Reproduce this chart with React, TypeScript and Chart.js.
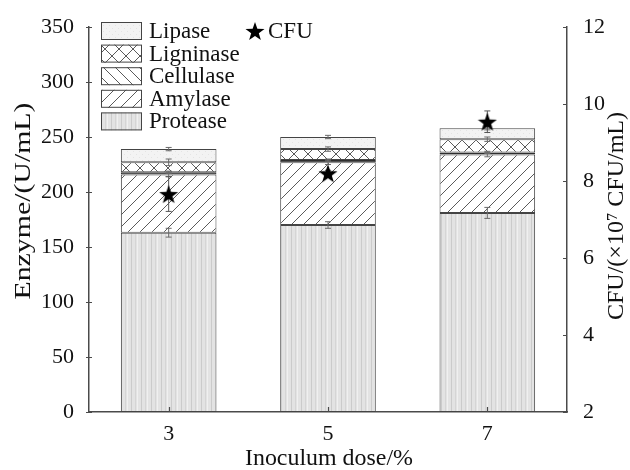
import React, { useEffect, useRef } from "react";
import { Chart, registerables } from "chart.js";

Chart.register(...registerables);

// Inoculum doses (x categories)
const doses = ["3", "5", "7"];

// Enzyme activities, U/mL (stacked segments, bottom to top)
const protease = [163, 170, 181];
const amylase = [53, 57, 53];
const cellulase = [2, 2, 2];
const ligninase = [9, 10, 12];
const lipase = [12, 11, 10];

// Standard deviations of the enzyme segments
const proteaseErr = [4, 3, 5];
const amylaseErr = [2, 2, 2];
const cellulaseErr = [1, 1, 1];
const ligninaseErr = [3, 2, 2];
const lipaseErr = [1.5, 1.5, 1.5];

// Viable counts, ×10^7 CFU/mL
const cfu = [7.66, 8.2, 9.54];
const cfuErr = [0.45, 0.08, 0.28];

// Axis ticks
const enzymeTicks = [0, 50, 100, 150, 200, 250, 300, 350];
const cfuTicks = [2, 4, 6, 8, 10, 12];

const FONT = "'Liberation Serif', 'Times New Roman', serif";
const AXIS = "#4a4a4a";
const EDGE = "#444444";
const TEXT = "#111111";

function makePattern(kind: string): CanvasPattern | string {
  const c = document.createElement("canvas");
  const ctx = c.getContext("2d");
  if (!ctx) return "#ddd";
  if (kind === "protease") {
    c.width = 10;
    c.height = 4;
    ctx.fillStyle = "#e3e3e3";
    ctx.fillRect(0, 0, 10, 4);
    ctx.fillStyle = "#cbcbcb";
    ctx.fillRect(1, 0, 1, 4);
    ctx.fillStyle = "#d5d5d5";
    ctx.fillRect(5, 0, 1, 4);
    ctx.fillStyle = "#f0f0f0";
    ctx.fillRect(7, 0, 1, 4);
  } else if (kind === "amylase" || kind === "cellulase") {
    const s = 12;
    c.width = s;
    c.height = s;
    ctx.fillStyle = "#ffffff";
    ctx.fillRect(0, 0, s, s);
    ctx.strokeStyle = "#5a5a5a";
    ctx.lineWidth = 1;
    ctx.beginPath();
    if (kind === "amylase") {
      ctx.moveTo(-1, s + 1); ctx.lineTo(s + 1, -1);
      ctx.moveTo(-1, 1); ctx.lineTo(1, -1);
      ctx.moveTo(s - 1, s + 1); ctx.lineTo(s + 1, s - 1);
    } else {
      ctx.moveTo(-1, -1); ctx.lineTo(s + 1, s + 1);
      ctx.moveTo(s - 1, -1); ctx.lineTo(s + 1, 1);
      ctx.moveTo(-1, s - 1); ctx.lineTo(1, s + 1);
    }
    ctx.stroke();
  } else if (kind === "ligninase") {
    const s = 14;
    c.width = s;
    c.height = s;
    ctx.fillStyle = "#ffffff";
    ctx.fillRect(0, 0, s, s);
    ctx.strokeStyle = "#5a5a5a";
    ctx.lineWidth = 1;
    ctx.beginPath();
    ctx.moveTo(-1, -1); ctx.lineTo(s + 1, s + 1);
    ctx.moveTo(-1, s + 1); ctx.lineTo(s + 1, -1);
    ctx.stroke();
  } else {
    c.width = 6;
    c.height = 6;
    ctx.fillStyle = "#f3f3f3";
    ctx.fillRect(0, 0, 6, 6);
    ctx.fillStyle = "#e4e4e4";
    ctx.fillRect(1, 1, 1, 1);
    ctx.fillRect(4, 4, 1, 1);
  }
  return ctx.createPattern(c, "repeat") || "#ddd";
}

function makeStar(size: number): HTMLCanvasElement {
  const c = document.createElement("canvas");
  c.width = size;
  c.height = size;
  const ctx = c.getContext("2d");
  if (ctx) {
    const cx = size / 2;
    const cy = size / 2 + size * 0.05;
    const R = size / 2;
    const r = R * 0.4;
    ctx.beginPath();
    for (let i = 0; i < 10; i++) {
      const rad = i % 2 === 0 ? R : r;
      const a = -Math.PI / 2 + (i * Math.PI) / 5;
      const px = cx + rad * Math.cos(a);
      const py = cy + rad * Math.sin(a);
      if (i === 0) ctx.moveTo(px, py);
      else ctx.lineTo(px, py);
    }
    ctx.closePath();
    ctx.fillStyle = "#000";
    ctx.fill();
  }
  return c;
}

// Draws text centred on (cx, cy), rotated by `angle`, fitted to `length` along its run
// and squeezed by `thick` across it
function drawFittedText(
  ctx: CanvasRenderingContext2D,
  text: string,
  cx: number,
  cy: number,
  angle: number,
  length: number,
  size: number,
  thick: number
) {
  ctx.save();
  ctx.font = `${size}px ${FONT}`;
  ctx.fillStyle = TEXT;
  ctx.textAlign = "center";
  ctx.textBaseline = "middle";
  const w = ctx.measureText(text).width;
  ctx.translate(cx, cy);
  ctx.rotate(angle);
  ctx.scale(length / w, thick);
  ctx.fillText(text, 0, 0);
  ctx.restore();
}

export default function App() {
  const ref = useRef<HTMLCanvasElement | null>(null);

  useEffect(() => {
    document.body.style.margin = "0";
    const canvas = ref.current;
    if (!canvas) return;

    const fills = {
      protease: makePattern("protease"),
      amylase: makePattern("amylase"),
      cellulase: makePattern("cellulase"),
      ligninase: makePattern("ligninase"),
      lipase: makePattern("lipase"),
    };
    const star = makeStar(20);

    const segments = [
      { label: "Protease", data: protease, err: proteaseErr, fill: fills.protease, bar: fills.protease, edge: EDGE },
      { label: "Amylase", data: amylase, err: amylaseErr, fill: fills.amylase, bar: fills.amylase, edge: EDGE },
      { label: "Cellulase", data: cellulase, err: cellulaseErr, fill: fills.cellulase, bar: "#2e2e2e", edge: "#2e2e2e" },
      { label: "Ligninase", data: ligninase, err: ligninaseErr, fill: fills.ligninase, bar: fills.ligninase, edge: EDGE },
      { label: "Lipase", data: lipase, err: lipaseErr, fill: fills.lipase, bar: fills.lipase, edge: EDGE },
    ];

    const drawCap = (ctx: CanvasRenderingContext2D, x: number, y1: number, y2: number, w: number) => {
      ctx.beginPath();
      ctx.moveTo(x, y1); ctx.lineTo(x, y2);
      ctx.moveTo(x - w, y1); ctx.lineTo(x + w, y1);
      ctx.moveTo(x - w, y2); ctx.lineTo(x + w, y2);
      ctx.stroke();
    };

    const errorBars = {
      id: "errorBars",
      beforeDatasetDraw(chart: any, args: any) {
        if (args.meta.type !== "line") return;
        const ctx = chart.ctx as CanvasRenderingContext2D;
        const y = chart.scales.y;
        const y1 = chart.scales.y1;
        ctx.save();
        ctx.strokeStyle = "#6a6a6a";
        ctx.lineWidth = 1;
        const cum = doses.map(() => 0);
        segments.forEach((seg, di) => {
          const meta = chart.getDatasetMeta(di);
          seg.data.forEach((v, i) => {
            cum[i] += v;
            const x = meta.data[i].x;
            drawCap(ctx, x, y.getPixelForValue(cum[i] + seg.err[i]), y.getPixelForValue(cum[i] - seg.err[i]), 3);
          });
        });
        ctx.strokeStyle = "#555";
        const lm = chart.getDatasetMeta(segments.length);
        cfu.forEach((v, i) => {
          const x = lm.data[i].x;
          drawCap(ctx, x, y1.getPixelForValue(v + cfuErr[i]), y1.getPixelForValue(v - cfuErr[i]), 3);
        });
        ctx.restore();
      },
    };

    const axisDecor = {
      id: "axisDecor",
      afterDraw(chart: any) {
        const ctx = chart.ctx as CanvasRenderingContext2D;
        const { left, right, bottom } = chart.chartArea;
        const y = chart.scales.y;
        const y1 = chart.scales.y1;
        const xs = chart.scales.x;
        ctx.save();
        ctx.strokeStyle = AXIS;
        ctx.lineWidth = 1.2;
        ctx.beginPath();
        enzymeTicks.forEach((t) => {
          const py = Math.round(y.getPixelForValue(t)) + 0.5;
          ctx.moveTo(left - 3, py); ctx.lineTo(left + 3, py);
        });
        cfuTicks.forEach((t) => {
          const py = Math.round(y1.getPixelForValue(t)) + 0.5;
          ctx.moveTo(right - 4, py); ctx.lineTo(right, py);
        });
        doses.forEach((_, i) => {
          const px = Math.round(xs.getPixelForValue(i)) + 0.5;
          ctx.moveTo(px, bottom - 5); ctx.lineTo(px, bottom);
        });
        ctx.stroke();
        ctx.restore();

        // axis titles
        drawFittedText(ctx, "Enzyme/(U/mL)", 24, 201, -Math.PI / 2, 197, 27, 0.85);
        drawFittedText(ctx, "CFU/(×10⁷ CFU/mL)", 617, 216, -Math.PI / 2, 208, 27, 0.85);
        drawFittedText(ctx, "Inoculum dose/%", 329, 459, 0, 168, 23, 1);
      },
    };

    const legendBox = {
      id: "legendBox",
      afterDraw(chart: any) {
        const ctx = chart.ctx as CanvasRenderingContext2D;
        ctx.save();
        ctx.font = `23px ${FONT}`;
        ctx.textBaseline = "middle";
        const order = [...segments].reverse();
        order.forEach((seg, k) => {
          const top = 22 + k * 22.6;
          ctx.fillStyle = seg.fill as any;
          ctx.fillRect(101, top, 41, 18);
          ctx.strokeStyle = EDGE;
          ctx.lineWidth = 1;
          ctx.strokeRect(101.5, top + 0.5, 40, 17);
          ctx.fillStyle = TEXT;
          ctx.fillText(seg.label, 149, top + 10);
        });
        ctx.drawImage(star, 245, 21, 20, 20);
        ctx.fillText("CFU", 268, 32);
        ctx.restore();
      },
    };

    const tickFont = { family: FONT, size: 22 };

    const chart = new Chart(canvas, {
      type: "bar",
      data: {
        labels: doses,
        datasets: [
          ...segments.map((seg) => ({
            type: "bar" as const,
            label: seg.label,
            data: seg.data,
            backgroundColor: seg.bar as any,
            borderColor: seg.edge,
            borderWidth: 1,
            borderSkipped: false as any,
            yAxisID: "y",
            stack: "enzyme",
            order: 1,
            barPercentage: 0.6,
            categoryPercentage: 1,
          })),
          {
            type: "line" as const,
            label: "CFU",
            data: cfu,
            yAxisID: "y1",
            showLine: false,
            pointStyle: star as any,
            pointRadius: 10,
            order: 0,
          } as any,
        ],
      },
      options: {
        animation: false,
        responsive: false,
        maintainAspectRatio: false,
        layout: { padding: { top: 27, left: 0, right: 0, bottom: 0 } },
        plugins: { legend: { display: false }, tooltip: { enabled: false } },
        scales: {
          x: {
            stacked: true,
            grid: { display: false },
            border: { display: true, color: AXIS, width: 1.5 },
            ticks: { font: tickFont, color: TEXT, padding: 1 },
            afterFit: (s: any) => { s.height = 58; },
          },
          y: {
            stacked: true,
            position: "left",
            min: 0,
            max: 350,
            grid: { display: false },
            border: { display: true, color: AXIS, width: 1.5 },
            ticks: { stepSize: 50, font: tickFont, color: TEXT, padding: 7 },
            afterFit: (s: any) => { s.width = 89; },
          },
          y1: {
            position: "right",
            min: 2,
            max: 12,
            grid: { display: false },
            border: { display: true, color: AXIS, width: 1.5 },
            ticks: { stepSize: 2, font: tickFont, color: TEXT, padding: 8 },
            afterFit: (s: any) => { s.width = 63; },
          },
        },
      },
      plugins: [errorBars, axisDecor, legendBox],
    });

    return () => chart.destroy();
  }, []);

  return (
    <div style={{ width: 630, height: 470, background: "#fff" }}>
      <canvas ref={ref} width={630} height={470} style={{ display: "block" }} />
    </div>
  );
}
